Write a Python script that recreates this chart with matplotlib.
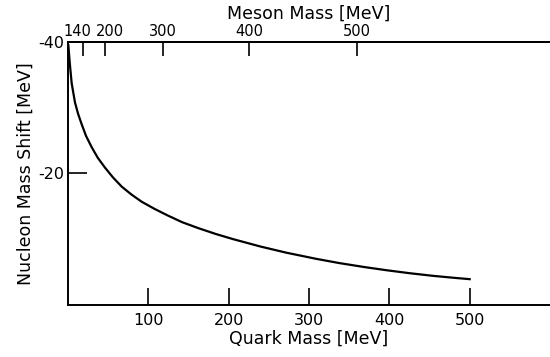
import matplotlib
matplotlib.use("Agg")
import matplotlib.pyplot as plt
import matplotlib.transforms as mtransforms

# curve: quark mass [MeV] vs nucleon mass shift [MeV]
quark_mass = [0.5, 1.2, 2.5, 4.6, 8.7, 12.5, 17, 22.5, 29.5, 37, 46, 56, 66.9,
              79, 91.8, 108, 124.4, 142, 162, 184, 206, 240, 272, 309, 338,
              370, 397, 425, 454, 480, 500]
mass_shift = [-39.5, -38.3, -36.4, -33.7, -30.8, -29.1, -27.5, -25.7, -24.0,
              -22.4, -20.9, -19.4, -18.0, -16.8, -15.7, -14.6, -13.6, -12.6,
              -11.7, -10.8, -10.0, -8.88, -7.95, -7.02, -6.37, -5.75, -5.28,
              -4.84, -4.44, -4.14, -3.93]

quark_ticks = [100, 200, 300, 400, 500]
shift_ticks = [-40, -20]
# meson mass labels on the top axis and where they sit on the quark mass scale
meson_labels = ["140", "200", "300", "400", "500"]
meson_pos = [18.7, 46.3, 118.4, 225.1, 359.8]

plt.rcParams['font.family'] = ['DejaVu Sans']
plt.rcParams['axes.unicode_minus'] = False

fig = plt.figure(figsize=(5.5, 3.57), dpi=100)
ax = fig.add_axes([68/550, 1-305/357, 1-68/550, (305-42)/357])

ax.plot(quark_mass, mass_shift, color='black', lw=1.6)

ax.set_xlim(0, 600)
ax.set_ylim(0, -40)
ax.spines['right'].set_visible(False)
for s in ['left', 'bottom', 'top']:
    ax.spines[s].set_linewidth(1.4)

ax.set_xticks(quark_ticks)
ax.set_yticks(shift_ticks)
ax.tick_params(axis='x', direction='in', length=12, width=1.2, labelsize=11.5, pad=6)
ax.tick_params(axis='y', direction='in', length=14, width=1.2, labelsize=11.5, pad=3)
ax.set_xlabel('Quark Mass [MeV]', fontsize=12.5, labelpad=1)
ax.set_ylabel('Nucleon Mass Shift [MeV]', fontsize=12.5, labelpad=2)

top = ax.twiny()
top.set_xlim(ax.get_xlim())
top.set_xticks(meson_pos)
top.set_xticklabels(meson_labels)
top.tick_params(axis='x', direction='in', length=10, width=1.2, labelsize=10.5, pad=2)
for s in ['left', 'right', 'bottom']:
    top.spines[s].set_visible(False)
top.spines['top'].set_linewidth(1.4)
top.set_xlabel('Meson Mass [MeV]', fontsize=12.5, labelpad=4)

# the two crowded labels at the left are pushed apart, as in the scan
lbls = top.get_xticklabels()
lbls[0].set_transform(lbls[0].get_transform() + mtransforms.ScaledTranslation(-6/100, 0, fig.dpi_scale_trans))
lbls[1].set_transform(lbls[1].get_transform() + mtransforms.ScaledTranslation(5/100, 0, fig.dpi_scale_trans))

fig.savefig('out.png', dpi=100)
